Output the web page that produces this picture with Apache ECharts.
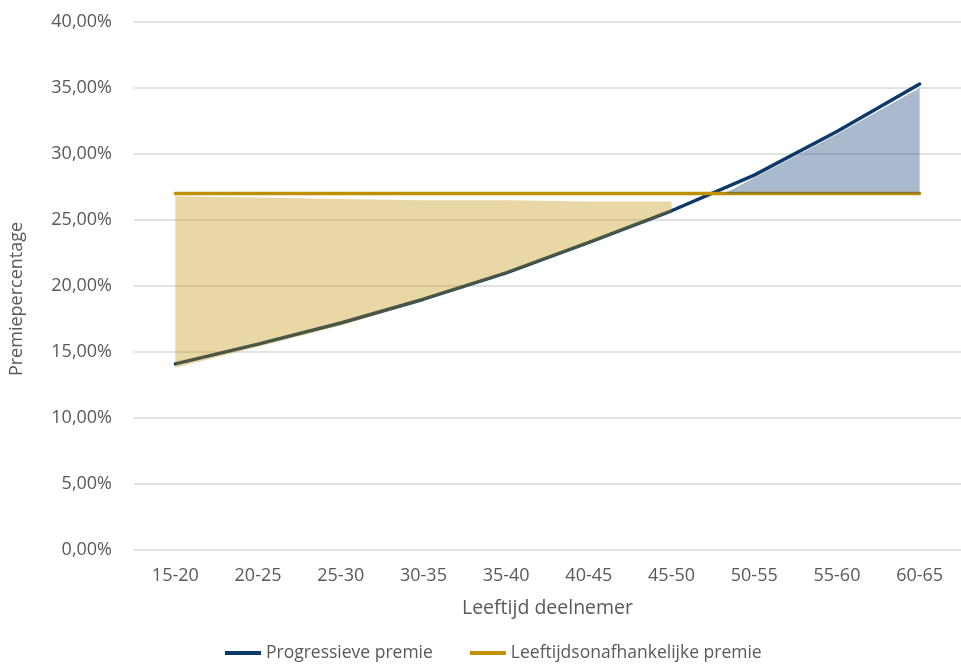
<!DOCTYPE html>
<html>
<head>
<meta charset="utf-8">
<script src="https://cdn.jsdelivr.net/npm/echarts@6/dist/echarts.min.js"></script>
<style>html,body{margin:0;padding:0;background:#fff;}#c{width:961px;height:668px;}</style>
</head>
<body>
<div id="c"></div>
<script>
const categories = ['15-20','20-25','25-30','30-35','35-40','40-45','45-50','50-55','55-60','60-65'];
const yTicks = [0, 5, 10, 15, 20, 25, 30, 35, 40];
const progressive = [14.1, 15.6, 17.2, 19.0, 21.0, 23.3, 25.7, 28.4, 31.7, 35.3];
const flat = [27.0, 27.0, 27.0, 27.0, 27.0, 27.0, 27.0, 27.0, 27.0, 27.0];
// shaded regions (x in category-index units)
const lowFillX = [0, 1, 2, 3, 4, 5, 6];
const lowFillBottom = [13.8, 15.4, 17.0, 18.9, 20.9, 23.2, 25.6];
const lowFillTop = [26.8, 26.7, 26.6, 26.5, 26.5, 26.4, 26.4];
const highFillX = [6.64, 7, 8, 9];
const highFillBottom = [27.0, 27.0, 27.0, 27.0];
const highFillTop = [27.0, 28.2, 31.5, 35.0];

const NAVY = '#0b3a6b';
const GOLD = '#bf9000';
const FONT = '"Open Sans", sans-serif';
const GREY = '#595959';

const regions = [
  {x: lowFillX, top: lowFillTop, bottom: lowFillBottom, color: 'rgba(191,144,0,0.35)'},
  {x: highFillX, top: highFillTop, bottom: highFillBottom, color: 'rgba(31,73,125,0.38)'}
];

function renderFill(params, api) {
  const r = regions[params.dataIndex];
  const pts = [];
  r.x.forEach((x, i) => pts.push(api.coord([x, r.top[i]])));
  for (let i = r.x.length - 1; i >= 0; i--) pts.push(api.coord([r.x[i], r.bottom[i]]));
  return {type: 'polygon', shape: {points: pts}, style: {fill: r.color}, silent: true};
}

const chart = echarts.init(document.getElementById('c'), null, {renderer: 'canvas'});
chart.setOption({
  animation: false,
  backgroundColor: '#fff',
  grid: {left: 133.5, width: 831, top: 22, bottom: 118, containLabel: false},
  xAxis: [{
    type: 'category', data: categories, boundaryGap: true,
    axisLine: {show: false}, axisTick: {show: false},
    axisLabel: {color: GREY, fontFamily: FONT, fontSize: 18, margin: 17},
    name: 'Leeftijd deelnemer', nameLocation: 'middle', nameGap: 48,
    nameTextStyle: {color: GREY, fontFamily: FONT, fontSize: 19.5}
  }, {
    type: 'value', min: -0.5, max: 9.5, show: false
  }],
  yAxis: {
    type: 'value', min: yTicks[0], max: yTicks[yTicks.length - 1], interval: 5,
    axisLine: {show: false}, axisTick: {show: false},
    splitLine: {lineStyle: {color: '#d9d9d9', width: 1.5}},
    axisLabel: {color: GREY, fontFamily: FONT, fontSize: 18, margin: 22,
      formatter: v => v.toFixed(2).replace('.', ',') + '%'},
    name: 'Premiepercentage', nameLocation: 'middle', nameGap: 108, nameRotate: 90,
    nameTextStyle: {color: GREY, fontFamily: FONT, fontSize: 18, padding: [0, 26, 0, 0]}
  },
  legend: {
    bottom: 1, left: 220, itemWidth: 36, itemHeight: 4, itemGap: 37, icon: 'rect',
    textStyle: {color: GREY, fontFamily: FONT, fontSize: 17.5},
    data: ['Progressieve premie', 'Leeftijdsonafhankelijke premie']
  },
  series: [
    {name: 'Progressieve premie', type: 'line', data: progressive, symbol: 'none',
      lineStyle: {color: NAVY, width: 3.5, cap: 'round'}, itemStyle: {color: NAVY}, z: 3},
    {name: 'Leeftijdsonafhankelijke premie', type: 'line', data: flat, symbol: 'none',
      lineStyle: {color: GOLD, width: 3.5, cap: 'round'}, itemStyle: {color: GOLD}, z: 3},
    {name: 'fills', type: 'custom', xAxisIndex: 1, renderItem: renderFill,
      data: [[0, 20], [9, 30]], z: 4, silent: true}
  ]
});
</script>
</body>
</html>
